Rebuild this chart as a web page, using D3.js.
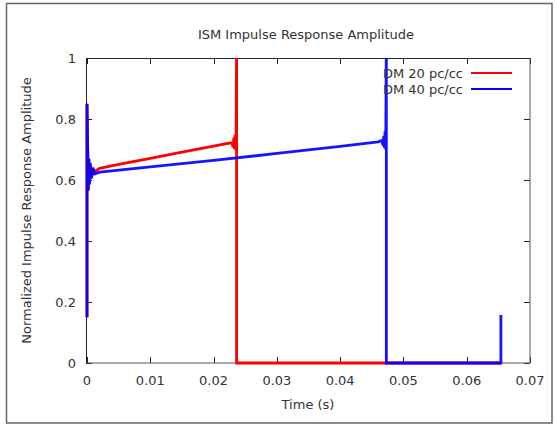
<!DOCTYPE html>
<html><head><meta charset="utf-8">
<script src="https://cdn.jsdelivr.net/npm/d3@7"></script>
<style>
body{margin:0;background:#fff;}
svg{display:block;font-family:"DejaVu Sans",sans-serif;}
</style></head>
<body><div id="chart"></div>
<script>
// ---- data ----
const seriesNames = ["DM 20 pc/cc", "DM 40 pc/cc"];
const seriesColors = ["#ff0000", "#0000ff"];
// DM 20 pc/cc : [time (s), normalized amplitude]
const dm20 = [
  [0, 0.15], [0, 0.85], [0.0002, 0.57], [0.0003, 0.665], [0.0004, 0.595], [0.0005, 0.65],
  [0.0007, 0.61], [0.0009, 0.64], [0.0012, 0.628], [0.002, 0.638], [0.005, 0.651],
  [0.01, 0.671], [0.015, 0.691], [0.02, 0.711], [0.022, 0.719], [0.0229, 0.722],
  [0.0231, 0.708], [0.0232, 0.738], [0.0233, 0.702], [0.0234, 0.748], [0.02355, 0.695],
  [0.02364, 1.05], [0.02364, 0], [0.0654, 0]
];
// DM 40 pc/cc
const dm40 = [
  [0, 0.15], [0, 0.85], [0.0002, 0.565], [0.0003, 0.67], [0.0004, 0.585], [0.0005, 0.655],
  [0.0007, 0.605], [0.0009, 0.64], [0.0012, 0.62], [0.002, 0.626], [0.01, 0.643],
  [0.02, 0.664], [0.03, 0.687], [0.04, 0.71], [0.046, 0.725], [0.0466, 0.729],
  [0.0468, 0.713], [0.0469, 0.745], [0.047, 0.705], [0.0471, 0.76], [0.0472, 0.7],
  [0.0473, 1.05], [0.0473, 0], [0.0654, 0], [0.0654, 0.157]
];
const xTicks = [0, 0.01, 0.02, 0.03, 0.04, 0.05, 0.06, 0.07];
const yTicks = [0, 0.2, 0.4, 0.6, 0.8, 1];
const title = "ISM Impulse Response Amplitude";
const xLabel = "Time (s)";
const yLabel = "Normalized Impulse Response Amplitude";

// ---- layout ----
const W = 555, H = 428;
const L = 86, T = 58, R = 530, B = 363;
const svg = d3.select("#chart").append("svg").attr("width", W).attr("height", H);

svg.append("rect").attr("x", 6.5).attr("y", 3.5).attr("width", 545.5).attr("height", 419.5)
  .attr("fill", "none").attr("stroke", "#666").attr("stroke-width", 1.5);

const x = d3.scaleLinear().domain([0, 0.07]).range([L + 1, R]);
const y = d3.scaleLinear().domain([0, 1]).range([B, T]);

const textColor = "#333";
const fs = 13;

// ticks (inward, mirrored)
const tk = svg.append("g").attr("stroke", "#222").attr("stroke-width", 1);
xTicks.forEach(v => {
  const px = Math.round(x(v)) + 0.5;
  tk.append("line").attr("x1", px).attr("x2", px).attr("y1", B).attr("y2", B - 6);
  tk.append("line").attr("x1", px).attr("x2", px).attr("y1", T).attr("y2", T + 6);
});
yTicks.forEach(v => {
  const py = Math.round(y(v)) + 0.5;
  tk.append("line").attr("x1", L).attr("x2", L + 6).attr("y1", py).attr("y2", py);
  tk.append("line").attr("x1", R).attr("x2", R - 6).attr("y1", py).attr("y2", py);
});

// tick labels
svg.append("g").selectAll("text").data(xTicks).join("text")
  .attr("x", d => x(d)).attr("y", B + 22).attr("text-anchor", "middle")
  .attr("font-size", fs).attr("fill", textColor)
  .text(d => d === 0 ? "0" : d3.format(".2f")(d));
svg.append("g").selectAll("text").data(yTicks).join("text")
  .attr("x", L - 10).attr("y", d => y(d) + 5).attr("text-anchor", "end")
  .attr("font-size", fs).attr("fill", textColor).text(d => d3.format("")(d));

// frame
svg.append("line").attr("x1", L + 0.5).attr("x2", L + 0.5).attr("y1", T).attr("y2", B).attr("stroke", "#222");
svg.append("line").attr("x1", L).attr("x2", R).attr("y1", T + 0.5).attr("y2", T + 0.5).attr("stroke", "#222");
svg.append("line").attr("x1", L).attr("x2", R).attr("y1", B).attr("y2", B).attr("stroke", "#555");
svg.append("line").attr("x1", R).attr("x2", R).attr("y1", T).attr("y2", B).attr("stroke", "#555");

// data lines
const clipId = "plotclip";
svg.append("clipPath").attr("id", clipId).append("rect")
  .attr("x", L - 3).attr("y", T).attr("width", R - L + 3).attr("height", B - T + 3);
const line = d3.line().x(d => x(d[0])).y(d => y(d[1]));
const g = svg.append("g").attr("clip-path", `url(#${clipId})`);
[dm20, dm40].forEach((s, i) => {
  g.append("path").attr("d", line(s)).attr("fill", "none")
    .attr("stroke", seriesColors[i]).attr("stroke-width", 2.8)
    .attr("stroke-opacity", i === 1 ? 0.92 : 1)
    .attr("stroke-linejoin", "miter").attr("stroke-miterlimit", 2);
});

// legend
seriesNames.forEach((n, i) => {
  const ly = 73 + i * 16;
  svg.append("text").attr("x", 463).attr("y", ly + 5).attr("text-anchor", "end")
    .attr("font-size", fs).attr("fill", textColor).text(n);
  svg.append("line").attr("x1", 471).attr("x2", 512).attr("y1", ly).attr("y2", ly)
    .attr("stroke", seriesColors[i]).attr("stroke-width", 2);
});

// titles
svg.append("text").attr("x", 306).attr("y", 39).attr("text-anchor", "middle")
  .attr("font-size", fs).attr("fill", textColor).text(title);
svg.append("text").attr("x", 308).attr("y", 409).attr("text-anchor", "middle")
  .attr("font-size", fs).attr("fill", textColor).text(xLabel);
svg.append("text").attr("transform", `translate(31,${(T + B) / 2}) rotate(-90)`)
  .attr("text-anchor", "middle").attr("font-size", fs).attr("fill", textColor).text(yLabel);
</script></body></html>
